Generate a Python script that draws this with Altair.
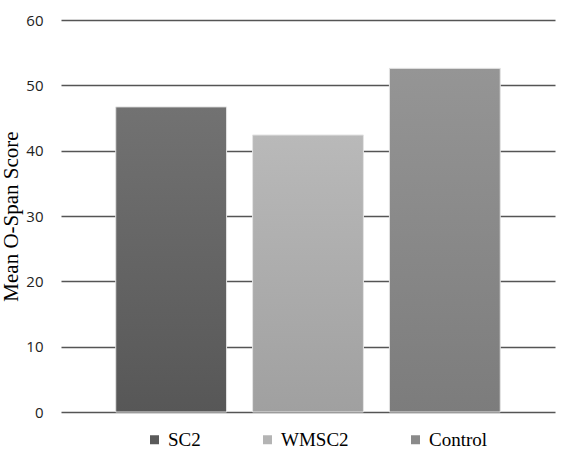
import altair as alt
import pandas as pd

groups = ["SC2", "WMSC2", "Control"]
scores = [46.7, 42.4, 52.6]
top_colors = ["#727272", "#b9b9b9", "#959595"]
bottom_colors = ["#575757", "#a0a0a0", "#7c7c7c"]
legend_colors = ["#5a5a5a", "#b4b4b4", "#8a8a8a"]

df = pd.DataFrame({"group": groups, "score": scores})

x_enc = alt.X("group:N", sort=groups, axis=None,
              scale=alt.Scale(paddingInner=0.19, paddingOuter=0.4))
y_enc = alt.Y("score:Q", scale=alt.Scale(domain=[0, 60], nice=False),
              axis=alt.Axis(values=[0, 10, 20, 30, 40, 50, 60], title="Mean O-Span Score",
                            titleFont="Liberation Serif", titleFontSize=21, titleFontWeight="normal",
                            titleColor="#000000", titlePadding=4,
                            labelFont="Open Sans", labelFontSize=15, labelColor="#222222",
                            labelPadding=18, ticks=False, domain=False,
                            grid=True, gridColor="#555555", gridWidth=1.3))

base = alt.Chart(df).mark_bar(opacity=0).encode(
    x=x_enc, y=y_enc,
    color=alt.Color("group:N", sort=groups,
                    scale=alt.Scale(domain=groups, range=legend_colors),
                    legend=alt.Legend(title=None, orient="none", direction="horizontal",
                                      legendX=84, legendY=410, symbolType="square",
                                      symbolSize=81, symbolOpacity=1, symbolStrokeWidth=0,
                                      labelFont="Liberation Serif", labelFontSize=19,
                                      labelColor="#000000", columnPadding=57,
                                      symbolOffset=0, labelOffset=4, labelLimit=300)),
)

layers = [base]
for g, t, b in zip(groups, top_colors, bottom_colors):
    grad = alt.Gradient(gradient="linear",
                        stops=[alt.GradientStop(color=t, offset=0),
                               alt.GradientStop(color=b, offset=1)],
                        x1=0, y1=0, x2=0, y2=1)
    layers.append(
        alt.Chart(df).transform_filter(alt.datum.group == g)
        .mark_bar(color=grad, stroke="#e4e4e4", strokeWidth=1)
        .encode(x=x_enc, y=y_enc)
    )

chart = alt.layer(*layers).properties(
    width=494, height=392,
    autosize=alt.AutoSizeParams(type="none"),
    padding={"left": 61, "top": 20, "right": 21, "bottom": 52},
    background="#ffffff",
).configure_view(stroke=None, strokeWidth=0).configure_legend(labelFont="Liberation Serif")

chart.save("out.html", embed_options={"renderer": "svg", "actions": False})
